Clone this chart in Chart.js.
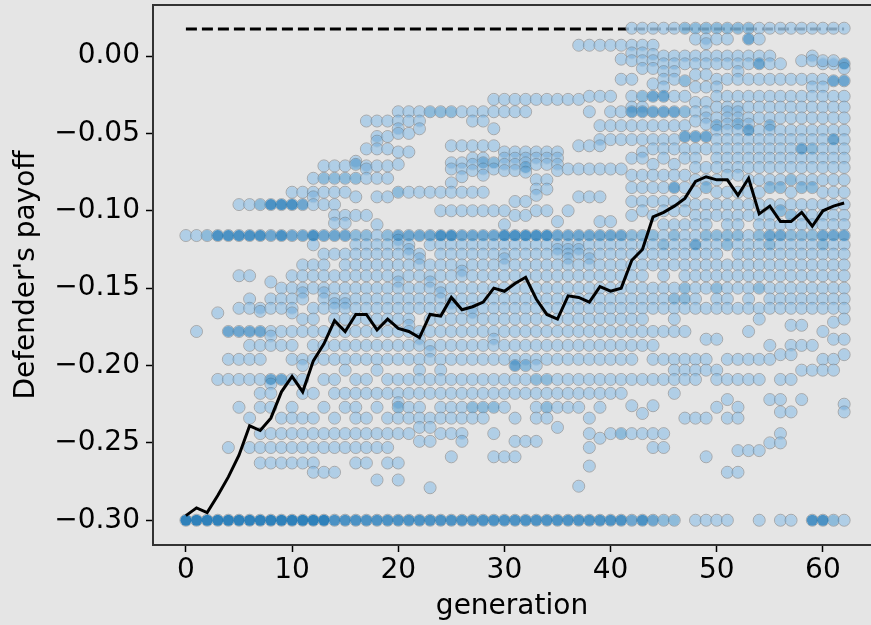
<!DOCTYPE html>
<html>
<head>
<meta charset="utf-8">
<script src="https://cdn.jsdelivr.net/npm/chart.js@4/dist/chart.umd.min.js"></script>
<style>
  html, body { margin: 0; padding: 0; background: #e5e5e5; overflow: hidden; }
  canvas { display: block; }
</style>
</head>
<body>
<canvas id="payoff-chart" width="871" height="625"></canvas>
<script>
// x axis: generation number
const generations = [0,1,2,3,4,5,6,7,8,9,10,11,12,13,14,15,16,17,18,19,20,21,22,23,24,25,26,27,28,29,30,
  31,32,33,34,35,36,37,38,39,40,41,42,43,44,45,46,47,48,49,50,51,52,53,54,55,56,57,58,59,60,61,62];

// mean defender payoff per generation (black line)
const meanPayoff = [-.297,-.292,-.295,-.284,-.272,-.258,-.239,-.242,-.234,-.217,
  -.207,-.217,-.197,-.186,-.171,-.178,-.167,-.167,-.177,-.170,
  -.176,-.178,-.182,-.167,-.168,-.156,-.164,-.162,-.159,-.150,
  -.152,-.147,-.143,-.157,-.167,-.170,-.155,-.156,-.159,-.149,
  -.152,-.150,-.132,-.125,-.104,-.101,-.097,-.092,-.081,-.078,
  -.080,-.080,-.090,-.079,-.102,-.097,-.107,-.107,-.101,-.110,
  -.100,-.097,-.095];

// best achievable payoff (dashed line) and the generations it spans
const bestPayoff = 0.0175;
const bestSpan = [0, 62];

// individual payoffs, one list per generation (repeats = several individuals)
const payoffsByGeneration = [
  [-.116,-.30,-.30,-.30,-.30,-.30,-.30],
  [-.116,-.178,-.30,-.30,-.30,-.30,-.30,-.30],
  [-.116,-.116,-.30,-.30,-.30,-.30,-.30,-.30],
  [-.116,-.116,-.116,-.116,-.166,-.209,-.30,-.30,-.30,-.30,-.30,-.30],
  [-.116,-.116,-.116,-.116,-.178,-.178,-.178,-.196,-.209,-.253,-.30,-.30,-.30,-.30,-.30,-.30],
  [-.096,-.116,-.116,-.116,-.116,-.142,-.163,-.178,-.178,-.178,-.196,-.209,-.227,-.30,-.30,-.30,-.30,-.30,-.30],
  [-.096,-.116,-.116,-.116,-.116,-.142,-.157,-.163,-.178,-.178,-.178,-.187,-.196,-.209,-.234,-.253,-.30,-.30,-.30,-.30,-.30,-.30],
  [-.096,-.096,-.116,-.116,-.116,-.116,-.163,-.165,-.178,-.178,-.178,-.187,-.196,-.209,-.218,-.227,-.244,-.253,-.263,-.30,-.30,-.30,-.30,-.30,-.30],
  [-.096,-.096,-.096,-.096,-.116,-.116,-.116,-.146,-.157,-.163,-.178,-.181,-.187,-.209,-.209,-.209,-.212,-.218,-.227,-.244,-.253,-.263,-.30,-.30,-.30,-.30,-.30,-.30],
  [-.096,-.096,-.096,-.096,-.116,-.116,-.116,-.116,-.150,-.157,-.163,-.178,-.187,-.209,-.209,-.209,-.234,-.244,-.253,-.263,-.30,-.30,-.30,-.30,-.30,-.30],
  [-.088,-.096,-.096,-.096,-.096,-.116,-.116,-.116,-.142,-.150,-.157,-.163,-.166,-.178,-.187,-.196,-.209,-.227,-.234,-.244,-.253,-.263,-.30,-.30,-.30,-.30,-.30,-.30],
  [-.088,-.096,-.096,-.096,-.116,-.116,-.116,-.135,-.142,-.150,-.153,-.157,-.170,-.178,-.196,-.200,-.209,-.218,-.234,-.244,-.253,-.263,-.30,-.30,-.30,-.30,-.30,-.30],
  [-.079,-.088,-.091,-.096,-.116,-.116,-.116,-.116,-.122,-.135,-.142,-.150,-.163,-.170,-.178,-.187,-.196,-.218,-.234,-.244,-.253,-.263,-.269,-.30,-.30,-.30,-.30,-.30,-.30],
  [-.071,-.079,-.079,-.088,-.096,-.116,-.116,-.116,-.128,-.135,-.142,-.150,-.153,-.157,-.163,-.178,-.187,-.196,-.209,-.227,-.244,-.253,-.269,-.30,-.30,-.30,-.30,-.30],
  [-.071,-.079,-.079,-.088,-.096,-.103,-.108,-.116,-.116,-.116,-.128,-.142,-.150,-.157,-.160,-.163,-.170,-.178,-.187,-.196,-.209,-.218,-.234,-.244,-.253,-.269,-.30,-.30,-.30,-.30],
  [-.071,-.079,-.079,-.088,-.103,-.108,-.116,-.116,-.116,-.128,-.135,-.142,-.150,-.157,-.160,-.163,-.170,-.178,-.187,-.196,-.203,-.218,-.227,-.244,-.253,-.30,-.30,-.30,-.30],
  [-.068,-.070,-.070,-.079,-.079,-.091,-.103,-.116,-.116,-.122,-.128,-.135,-.142,-.150,-.157,-.163,-.170,-.178,-.187,-.196,-.209,-.218,-.227,-.234,-.244,-.253,-.263,-.30,-.30,-.30,-.30],
  [-.042,-.060,-.071,-.073,-.079,-.103,-.116,-.116,-.122,-.128,-.135,-.142,-.150,-.157,-.163,-.170,-.178,-.187,-.196,-.209,-.218,-.234,-.244,-.253,-.263,-.30,-.30,-.30,-.30],
  [-.042,-.052,-.055,-.060,-.071,-.079,-.091,-.109,-.116,-.122,-.128,-.135,-.142,-.150,-.157,-.163,-.170,-.178,-.187,-.196,-.203,-.218,-.227,-.244,-.253,-.274,-.30,-.30,-.30,-.30],
  [-.042,-.052,-.060,-.071,-.079,-.091,-.116,-.116,-.122,-.128,-.135,-.142,-.150,-.157,-.163,-.170,-.178,-.187,-.196,-.209,-.218,-.234,-.244,-.253,-.263,-.30,-.30,-.30,-.30],
  [-.036,-.042,-.047,-.050,-.062,-.070,-.088,-.088,-.116,-.116,-.116,-.119,-.122,-.128,-.135,-.142,-.146,-.150,-.157,-.163,-.170,-.178,-.187,-.196,-.209,-.218,-.224,-.227,-.227,-.234,-.244,-.263,-.274,-.30,-.30,-.30,-.30],
  [-.036,-.042,-.050,-.062,-.088,-.116,-.116,-.116,-.122,-.125,-.128,-.135,-.142,-.150,-.157,-.163,-.170,-.174,-.178,-.187,-.196,-.209,-.218,-.227,-.234,-.244,-.30,-.30,-.30,-.30],
  [-.036,-.042,-.047,-.088,-.116,-.116,-.116,-.128,-.131,-.135,-.142,-.150,-.157,-.163,-.178,-.183,-.187,-.196,-.203,-.209,-.218,-.227,-.234,-.240,-.249,-.30,-.30,-.30,-.30],
  [-.036,-.036,-.088,-.116,-.116,-.116,-.122,-.135,-.142,-.146,-.150,-.157,-.163,-.170,-.178,-.187,-.191,-.196,-.209,-.218,-.234,-.240,-.249,-.279,-.30,-.30,-.30,-.30],
  [-.036,-.036,-.088,-.100,-.116,-.116,-.116,-.116,-.122,-.128,-.135,-.142,-.150,-.153,-.157,-.163,-.170,-.178,-.187,-.196,-.203,-.209,-.218,-.227,-.234,-.244,-.30,-.30,-.30,-.30],
  [-.036,-.036,-.058,-.069,-.073,-.082,-.088,-.100,-.116,-.116,-.116,-.116,-.122,-.128,-.135,-.142,-.150,-.157,-.160,-.163,-.170,-.178,-.187,-.196,-.209,-.218,-.227,-.234,-.244,-.259,-.30,-.30,-.30,-.30],
  [-.036,-.058,-.069,-.073,-.078,-.088,-.100,-.116,-.116,-.116,-.122,-.128,-.135,-.139,-.142,-.150,-.157,-.163,-.170,-.178,-.187,-.196,-.209,-.218,-.227,-.234,-.244,-.249,-.30,-.30,-.30,-.30],
  [-.036,-.042,-.058,-.066,-.070,-.074,-.088,-.100,-.116,-.116,-.116,-.122,-.128,-.135,-.142,-.150,-.157,-.163,-.166,-.170,-.178,-.187,-.196,-.209,-.218,-.227,-.227,-.234,-.30,-.30,-.30,-.30],
  [-.036,-.042,-.058,-.066,-.069,-.069,-.073,-.077,-.088,-.100,-.116,-.116,-.116,-.122,-.128,-.135,-.142,-.150,-.157,-.163,-.170,-.178,-.187,-.196,-.209,-.218,-.227,-.227,-.234,-.30,-.30,-.30,-.30],
  [-.028,-.036,-.047,-.058,-.069,-.069,-.073,-.100,-.116,-.116,-.116,-.122,-.128,-.135,-.142,-.150,-.157,-.163,-.170,-.178,-.183,-.187,-.196,-.209,-.218,-.227,-.227,-.244,-.259,-.30,-.30,-.30,-.30],
  [-.028,-.036,-.062,-.066,-.070,-.074,-.100,-.109,-.116,-.116,-.116,-.116,-.122,-.128,-.131,-.135,-.142,-.150,-.157,-.163,-.170,-.178,-.187,-.196,-.209,-.218,-.227,-.259,-.30,-.30,-.30,-.30],
  [-.028,-.036,-.062,-.066,-.070,-.074,-.094,-.103,-.116,-.116,-.116,-.116,-.122,-.128,-.135,-.142,-.150,-.157,-.163,-.170,-.178,-.187,-.196,-.200,-.200,-.200,-.209,-.218,-.234,-.249,-.259,-.30,-.30,-.30,-.30],
  [-.028,-.036,-.062,-.066,-.069,-.072,-.072,-.075,-.094,-.103,-.116,-.116,-.116,-.116,-.122,-.128,-.135,-.142,-.150,-.157,-.163,-.170,-.178,-.187,-.196,-.200,-.200,-.209,-.218,-.249,-.30,-.30,-.30,-.30],
  [-.028,-.062,-.066,-.070,-.080,-.086,-.090,-.100,-.116,-.116,-.116,-.116,-.122,-.128,-.135,-.142,-.150,-.157,-.163,-.170,-.178,-.187,-.196,-.200,-.209,-.209,-.218,-.227,-.234,-.249,-.30,-.30,-.30,-.30],
  [-.028,-.062,-.066,-.070,-.080,-.086,-.100,-.116,-.116,-.116,-.116,-.122,-.128,-.135,-.142,-.150,-.157,-.163,-.170,-.178,-.187,-.196,-.209,-.209,-.218,-.227,-.227,-.234,-.30,-.30,-.30,-.30],
  [-.028,-.062,-.066,-.070,-.074,-.107,-.116,-.116,-.116,-.122,-.125,-.128,-.135,-.142,-.150,-.157,-.163,-.170,-.178,-.187,-.196,-.209,-.218,-.227,-.240,-.30,-.30,-.30,-.30],
  [-.028,-.073,-.100,-.116,-.116,-.116,-.122,-.125,-.128,-.131,-.135,-.142,-.150,-.157,-.163,-.170,-.178,-.187,-.196,-.209,-.218,-.227,-.30,-.30,-.30,-.30],
  [.007,-.028,-.058,-.073,-.091,-.116,-.116,-.116,-.122,-.125,-.128,-.135,-.142,-.150,-.157,-.163,-.170,-.178,-.187,-.196,-.209,-.218,-.227,-.278,-.30,-.30,-.30,-.30],
  [.007,-.026,-.036,-.058,-.073,-.091,-.116,-.116,-.116,-.122,-.128,-.131,-.135,-.142,-.150,-.157,-.163,-.170,-.178,-.187,-.196,-.209,-.218,-.234,-.244,-.253,-.265,-.30,-.30,-.30,-.30],
  [.007,-.026,-.045,-.054,-.058,-.073,-.091,-.107,-.116,-.116,-.116,-.122,-.128,-.135,-.142,-.150,-.157,-.163,-.170,-.178,-.187,-.196,-.209,-.218,-.227,-.247,-.30,-.30,-.30,-.30],
  [.007,-.026,-.036,-.045,-.054,-.073,-.107,-.116,-.116,-.116,-.122,-.128,-.135,-.142,-.150,-.157,-.163,-.170,-.178,-.187,-.196,-.209,-.218,-.244,-.30,-.30,-.30,-.30],
  [.007,-.002,-.015,-.036,-.045,-.054,-.073,-.116,-.116,-.116,-.122,-.128,-.135,-.142,-.150,-.157,-.163,-.170,-.178,-.187,-.196,-.209,-.218,-.244,-.244,-.30,-.30,-.30,-.30],
  [.018,.007,.002,-.003,-.015,-.026,-.033,-.036,-.036,-.036,-.045,-.054,-.066,-.077,-.085,-.094,-.103,-.116,-.116,-.122,-.128,-.135,-.142,-.150,-.157,-.163,-.170,-.178,-.187,-.196,-.209,-.226,-.244,-.30,-.30,-.30],
  [.018,.007,.002,-.003,-.008,-.026,-.026,-.033,-.036,-.036,-.036,-.045,-.054,-.062,-.066,-.077,-.085,-.094,-.100,-.116,-.116,-.122,-.128,-.135,-.142,-.150,-.157,-.163,-.170,-.178,-.187,-.209,-.231,-.244,-.30,-.30,-.30,-.30],
  [.018,.007,.001,-.003,-.008,-.018,-.026,-.026,-.026,-.036,-.036,-.036,-.045,-.054,-.060,-.070,-.077,-.085,-.094,-.103,-.116,-.116,-.122,-.128,-.135,-.150,-.157,-.163,-.178,-.187,-.196,-.209,-.226,-.244,-.253,-.30,-.30,-.30],
  [.018,.000,-.005,-.010,-.015,-.020,-.026,-.026,-.026,-.036,-.036,-.036,-.045,-.054,-.060,-.066,-.077,-.085,-.094,-.100,-.109,-.116,-.122,-.122,-.128,-.135,-.142,-.150,-.157,-.163,-.178,-.196,-.209,-.244,-.253,-.30,-.30],
  [.018,.000,-.005,-.010,-.015,-.026,-.036,-.036,-.036,-.045,-.054,-.060,-.070,-.077,-.085,-.085,-.085,-.094,-.100,-.109,-.116,-.116,-.122,-.128,-.135,-.150,-.157,-.157,-.163,-.170,-.178,-.196,-.203,-.209,-.218,-.30,-.30],
  [.018,.018,.000,-.005,-.016,-.016,-.026,-.036,-.036,-.045,-.052,-.052,-.052,-.060,-.066,-.077,-.085,-.094,-.100,-.109,-.116,-.122,-.128,-.135,-.142,-.150,-.150,-.157,-.157,-.163,-.178,-.196,-.203,-.209,-.234],
  [.018,.018,.011,.000,-.005,-.012,-.020,-.030,-.036,-.042,-.052,-.052,-.052,-.060,-.066,-.072,-.080,-.088,-.096,-.103,-.109,-.116,-.122,-.122,-.122,-.128,-.135,-.142,-.150,-.157,-.163,-.196,-.203,-.209,-.234,-.30],
  [.018,.018,.011,.008,.000,-.005,-.012,-.020,-.030,-.036,-.040,-.044,-.052,-.052,-.052,-.060,-.072,-.080,-.085,-.085,-.096,-.103,-.109,-.116,-.116,-.122,-.128,-.135,-.142,-.150,-.163,-.183,-.196,-.203,-.234,-.259,-.30],
  [.018,.018,.011,.000,-.005,-.015,-.020,-.026,-.033,-.040,-.045,-.045,-.048,-.054,-.060,-.066,-.072,-.080,-.088,-.096,-.103,-.116,-.116,-.122,-.128,-.135,-.142,-.150,-.150,-.157,-.163,-.183,-.203,-.209,-.227,-.30],
  [.018,.018,.011,.000,-.005,-.015,-.026,-.033,-.036,-.040,-.044,-.048,-.054,-.060,-.066,-.072,-.077,-.088,-.096,-.103,-.109,-.116,-.116,-.122,-.122,-.135,-.142,-.150,-.157,-.163,-.196,-.209,-.222,-.234,-.269,-.30],
  [.018,.018,.000,-.005,-.010,-.015,-.026,-.033,-.036,-.040,-.044,-.044,-.048,-.054,-.060,-.066,-.072,-.077,-.088,-.096,-.103,-.109,-.116,-.116,-.122,-.128,-.135,-.142,-.150,-.163,-.196,-.209,-.227,-.234,-.255,-.269],
  [.018,.018,.011,.011,.011,.000,-.005,-.015,-.026,-.033,-.040,-.044,-.048,-.048,-.048,-.054,-.060,-.066,-.072,-.080,-.088,-.096,-.103,-.116,-.122,-.128,-.135,-.142,-.150,-.157,-.163,-.178,-.196,-.209,-.255],
  [.018,.011,.000,-.005,-.005,-.005,-.015,-.026,-.033,-.040,-.048,-.054,-.060,-.066,-.072,-.080,-.088,-.096,-.103,-.109,-.116,-.116,-.122,-.128,-.135,-.142,-.150,-.150,-.163,-.170,-.196,-.209,-.255,-.30],
  [.018,.000,-.005,-.015,-.026,-.033,-.040,-.045,-.045,-.048,-.054,-.060,-.066,-.072,-.080,-.085,-.085,-.096,-.103,-.109,-.116,-.116,-.116,-.122,-.122,-.128,-.135,-.142,-.150,-.157,-.163,-.187,-.196,-.222,-.250],
  [.018,-.005,-.015,-.026,-.033,-.040,-.048,-.054,-.060,-.066,-.072,-.080,-.085,-.085,-.096,-.100,-.100,-.109,-.116,-.116,-.116,-.122,-.128,-.135,-.142,-.150,-.157,-.163,-.193,-.209,-.222,-.230,-.244,-.250,-.30],
  [.018,-.015,-.026,-.033,-.040,-.048,-.054,-.060,-.066,-.072,-.080,-.080,-.088,-.096,-.103,-.103,-.109,-.116,-.116,-.122,-.128,-.135,-.142,-.150,-.157,-.163,-.174,-.187,-.193,-.209,-.230,-.30],
  [.018,-.003,-.015,-.026,-.033,-.040,-.048,-.054,-.060,-.060,-.060,-.066,-.072,-.080,-.085,-.085,-.096,-.103,-.109,-.116,-.116,-.122,-.128,-.135,-.142,-.150,-.157,-.163,-.174,-.187,-.203,-.222],
  [.018,.000,-.003,-.015,-.020,-.026,-.033,-.040,-.048,-.054,-.060,-.060,-.066,-.072,-.080,-.085,-.085,-.096,-.103,-.109,-.116,-.116,-.122,-.128,-.135,-.142,-.150,-.157,-.163,-.187,-.203,-.30,-.30,-.30,-.30],
  [.018,-.005,-.003,-.015,-.020,-.026,-.033,-.040,-.048,-.054,-.060,-.066,-.072,-.080,-.088,-.096,-.103,-.109,-.116,-.116,-.116,-.122,-.122,-.128,-.135,-.142,-.150,-.157,-.163,-.178,-.196,-.203,-.30,-.30,-.30,-.30],
  [.018,-.005,-.003,-.016,-.016,-.016,-.026,-.033,-.040,-.048,-.054,-.054,-.054,-.060,-.066,-.072,-.080,-.088,-.096,-.103,-.109,-.116,-.116,-.116,-.122,-.128,-.135,-.142,-.150,-.157,-.163,-.172,-.183,-.196,-.203,-.30,-.30],
  [.018,-.005,-.005,-.005,-.008,-.016,-.016,-.016,-.026,-.033,-.040,-.048,-.054,-.060,-.066,-.072,-.080,-.088,-.096,-.103,-.109,-.116,-.116,-.116,-.122,-.128,-.135,-.142,-.150,-.157,-.163,-.170,-.183,-.193,-.225,-.230,-.30]
];

// tick labels
const xTickValues = [0, 10, 20, 30, 40, 50, 60];
const yTickValues = [-0.30, -0.25, -0.20, -0.15, -0.10, -0.05, 0.00];

const payoffCanvas = document.querySelector('#payoff-chart');
const axisFont = { family: 'DejaVu Sans', size: 28, lineHeight: 1.2 };

// one marker per distinct payoff in a generation, n = how many individuals share it
const individualPoints = [];
generations.forEach((gen, i) => {
  const counts = new Map();
  payoffsByGeneration[i].forEach(v => counts.set(v, (counts.get(v) || 0) + 1));
  counts.forEach((n, v) => individualPoints.push({ x: gen, y: v, n: n }));
});

const meanPoints = generations.map((gen, i) => ({ x: gen, y: meanPayoff[i] }));
const bestPoints = bestSpan.map(gen => ({ x: gen, y: bestPayoff }));

// stacked markers get darker, like overlapping transparent dots
function tintColor(ctx) {
  const n = ctx.raw && ctx.raw.n ? ctx.raw.n : 1;
  const a = Math.min(0.92, 0.22 + 0.18 * (n - 1));
  return `rgba(31, 119, 180, ${a})`;
}

// axes frame (left, top, bottom) like the matplotlib spines
const framePlugin = {
  id: 'frame',
  afterDraw(chart) {
    const { ctx, chartArea: a } = chart;
    ctx.save();
    ctx.strokeStyle = '#333';
    ctx.lineWidth = 2;
    ctx.beginPath();
    ctx.moveTo(a.right + 2, a.top);
    ctx.lineTo(a.left, a.top);
    ctx.lineTo(a.left, a.bottom);
    ctx.lineTo(a.right + 2, a.bottom);
    ctx.stroke();
    ctx.restore();
  }
};

// keep chart area fixed: no auto padding for edge tick labels
function fixBox(scale, key, size) {
  scale[key] = size;
  scale.paddingTop = 0;
  scale.paddingBottom = 0;
  scale.paddingLeft = 0;
  scale.paddingRight = 0;
}

const fmt = v => v.toFixed(2).replace('-', '\u2212');

new Chart(payoffCanvas, {
  data: {
    datasets: [
      {
        type: 'line',
        data: meanPoints,
        borderColor: '#000',
        borderWidth: 3,
        pointRadius: 0,
        tension: 0,
        fill: false,
        order: 0
      },
      {
        type: 'scatter',
        data: individualPoints,
        pointRadius: 5.5,
        pointBackgroundColor: tintColor,
        pointBorderWidth: 0,
        order: 1
      },
      {
        type: 'scatter',
        data: individualPoints,
        pointRadius: 6,
        pointBackgroundColor: 'rgba(212, 231, 248, 0.75)',
        pointBorderColor: 'rgba(110, 110, 110, 0.5)',
        pointBorderWidth: 1,
        order: 2
      },
      {
        type: 'line',
        data: bestPoints,
        borderColor: '#000',
        borderWidth: 3,
        borderDash: [11, 5],
        pointRadius: 0,
        fill: false,
        order: 3
      }
    ]
  },
  options: {
    responsive: false,
    animation: false,
    layout: { autoPadding: false, padding: { top: 5, right: 0, left: 0, bottom: 0 } },
    scales: {
      x: {
        type: 'linear',
        min: -3.1,
        max: 64.53,
        afterFit: scale => fixBox(scale, 'height', 80),
        afterBuildTicks: scale => { scale.ticks = xTickValues.map(v => ({ value: v })); },
        border: { display: false },
        grid: { drawOnChartArea: false, drawTicks: true, tickLength: 7, tickWidth: 1.5, tickColor: '#000' },
        ticks: { color: '#000', font: axisFont, padding: 2, maxRotation: 0, callback: v => String(v) },
        title: { display: true, text: 'generation', color: '#000', font: axisFont, padding: { top: 0, bottom: 1 } }
      },
      y: {
        type: 'linear',
        min: -0.316,
        max: 0.033,
        afterFit: scale => fixBox(scale, 'width', 153),
        afterBuildTicks: scale => { scale.ticks = yTickValues.map(v => ({ value: v })); },
        border: { display: false },
        grid: { drawOnChartArea: false, drawTicks: true, tickLength: 7, tickWidth: 1.5, tickColor: '#000' },
        ticks: { color: '#000', font: axisFont, padding: 6, callback: v => fmt(v) },
        title: { display: true, text: "Defender's payoff", color: '#000', font: axisFont, padding: { top: 10, bottom: 0 } }
      }
    },
    plugins: {
      legend: { display: false },
      tooltip: { enabled: false }
    }
  },
  plugins: [framePlugin]
});
</script>
</body>
</html>
